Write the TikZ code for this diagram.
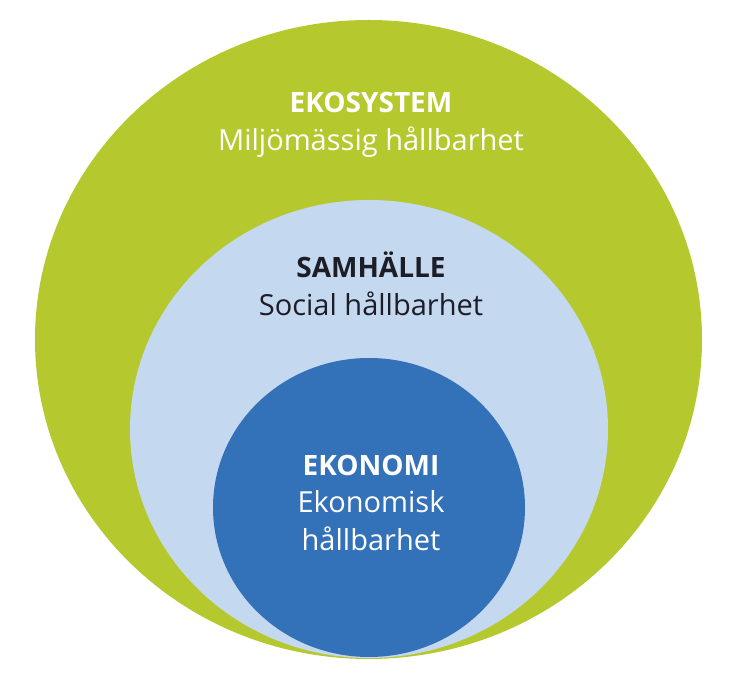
\documentclass[tikz,border=0pt]{standalone}
\usepackage{fontspec}
\setmainfont{Open Sans}
\definecolor{ekogreen}{HTML}{B5C92F}
\definecolor{samblue}{HTML}{C4D8EF}
\definecolor{ekoblue}{HTML}{3371B8}
\definecolor{samtext}{HTML}{1C1D26}
\tikzset{
  head/.style={font=\fontsize{28}{32}\selectfont\bfseries, anchor=base},
  sub/.style={font=\fontsize{29}{33}\selectfont, anchor=base}
}
\begin{document}
\begin{tikzpicture}[x=1pt,y=1pt]
\useasboundingbox (0,0) rectangle (742,680);
\fill[ekogreen] (368.5,340.5) ellipse [x radius=333.5, y radius=319.5];
\fill[samblue]  (369,251) ellipse [x radius=239, y radius=229];
\fill[ekoblue]  (369,172.5) ellipse [x radius=156, y radius=149.5];

\node[head,white] (ekosystem) at (371,567) {EKOSYSTEM};
\node[sub,white] (miljo) at (371,529) {Miljömässig hållbarhet};

\node[head,samtext] (samhalle) at (371,402) {SAMHÄLLE};
\node[sub,samtext] (social) at (371,364) {Social hållbarhet};

\node[head,white] (ekonomi) at (371,204) {EKONOMI};
\node[sub,white] (ekonomisk) at (371,167) {Ekonomisk};
\node[sub,white] (hallbar) at (371,129) {hållbarhet};
\end{tikzpicture}
\end{document}
